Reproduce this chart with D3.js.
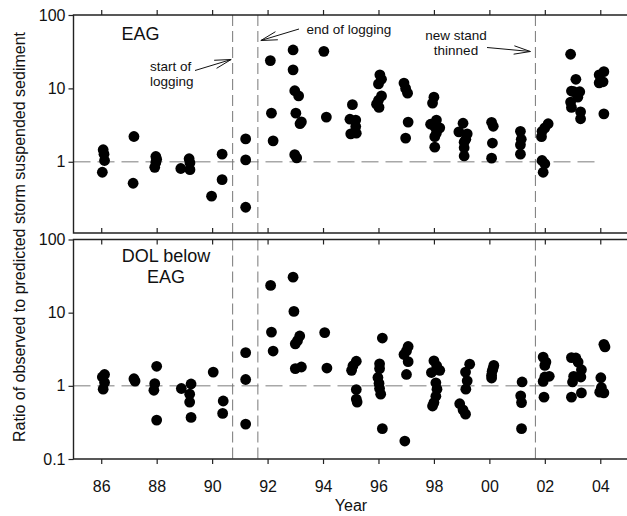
<!DOCTYPE html>
<html>
<head>
<meta charset="utf-8">
<script src="https://cdn.jsdelivr.net/npm/d3@7"></script>
<style>
  body { margin: 0; background: #fff; }
  svg { display: block; }
  text { font-family: "Liberation Sans", Arial, sans-serif; fill: #111; }
</style>
</head>
<body>
<svg id="chart" width="627" height="516"></svg>
<script>
// EAG (upper panel): year, ratio observed / predicted
const eagYear = [
  1986.07, 1986.10, 1986.12, 1986.04, 1987.18, 1987.15,
  1987.97, 1988.00, 1987.97, 1987.93, 1988.87, 1989.17, 1989.20, 1989.20,
  1989.98, 1990.36, 1990.36, 1991.21, 1991.21, 1991.21,
  1992.10, 1992.14, 1992.20, 1992.92, 1992.92, 1992.98, 1993.12, 1993.02, 1993.17, 1993.22, 1992.98, 1993.05,
  1994.03, 1994.12, 1995.06, 1994.97, 1995.18, 1995.18, 1995.00, 1995.20,
  1996.05, 1996.11, 1996.00, 1996.11, 1996.00, 1995.93, 1996.02,
  1996.92, 1996.98, 1997.05, 1997.07, 1996.98,
  1998.00, 1997.95, 1998.09, 1997.88, 1998.03, 1998.21, 1998.09, 1998.03, 1998.03,
  1999.05, 1998.90, 1999.20, 1999.15, 1999.09, 1999.09, 1999.09,
  2000.08, 2000.14, 2000.11, 2000.08, 2001.12, 2001.15, 2001.12, 2001.12,
  2002.12, 2002.00, 2001.90, 2001.88, 2001.90, 2002.00, 2001.94,
  2002.93, 2003.12, 2002.96, 2003.26, 2003.05, 2003.19, 2002.93, 2002.96, 2003.29, 2003.29,
  2004.13, 2003.96, 2003.96, 2004.10, 2004.13
];
const eagRatio = [
  1.46, 1.27, 1.04, 0.72, 2.21, 0.51,
  1.18, 1.08, 0.98, 0.84, 0.81, 1.10, 0.97, 0.78,
  0.34, 1.27, 0.57, 2.05, 1.06, 0.24,
  23.9, 4.6, 1.93, 33.4, 17.9, 9.3, 7.9, 4.6, 3.3, 3.5, 1.25, 1.13,
  32, 4.06, 6.0, 3.8, 3.7, 3.02, 2.4, 2.45,
  15.3, 13.3, 11.5, 7.9, 6.9, 6.1, 5.5,
  11.8, 10.0, 8.6, 3.47, 2.1,
  7.6, 6.3, 3.7, 3.25, 3.0, 2.9, 2.46, 2.2, 1.58,
  3.35, 2.55, 2.4, 2.03, 1.85, 1.55, 1.2,
  3.45, 3.05, 1.8, 1.12, 2.6, 2.03, 1.7, 1.27,
  3.3, 2.9, 2.6, 2.2, 1.04, 0.94, 0.72,
  29.2, 13.3, 9.2, 9.0, 9.0, 7.6, 6.5, 5.5, 4.8, 3.85,
  16.9, 15.3, 11.9, 12.3, 4.5
];

// DOL below EAG (lower panel)
const dolYear = [
  1986.12, 1986.04, 1986.12, 1986.07, 1987.18, 1987.22,
  1988.00, 1987.93, 1987.90, 1988.00, 1988.89, 1989.24, 1989.19, 1989.19, 1989.24,
  1990.04, 1990.40, 1990.38, 1991.21, 1991.21, 1991.21,
  1992.11, 1992.14, 1992.20, 1992.92, 1992.95, 1993.16, 1993.08, 1993.00, 1993.00, 1993.22,
  1994.06, 1994.14, 1995.20, 1995.08, 1995.03, 1995.20, 1995.20, 1995.23,
  1996.14, 1996.04, 1996.04, 1995.98, 1996.02, 1996.04, 1996.08, 1996.14,
  1997.07, 1997.01, 1996.92, 1997.07, 1997.01, 1996.95,
  1998.00, 1998.10, 1998.21, 1997.91, 1998.07, 1998.11, 1998.07, 1998.00, 1997.95,
  1999.29, 1999.14, 1999.20, 1999.15, 1998.93, 1999.05, 1999.14,
  2000.16, 2000.13, 2000.10, 2000.08, 2000.08, 2001.18, 2001.13, 2001.16, 2001.16,
  2001.94, 2002.04, 2002.00, 2002.16, 2002.00, 2001.94, 2001.97,
  2002.96, 2003.12, 2003.20, 2003.32, 2003.04, 2003.00, 2003.30, 2003.32, 2002.96,
  2004.13, 2004.17, 2004.02, 2004.04, 2003.98, 2004.13
];
const dolRatio = [
  1.43, 1.32, 1.11, 0.9, 1.25, 1.16,
  1.85, 1.07, 0.87, 0.34, 0.92, 1.06, 0.77, 0.6, 0.37,
  1.54, 0.62, 0.42, 2.84, 1.22, 0.3,
  23.6, 5.43, 2.99, 30.6, 10.4, 4.8, 4.15, 3.75, 1.72, 1.81,
  5.34, 1.75, 2.17, 1.88, 1.63, 0.89, 0.66, 0.6,
  4.5, 2.0, 1.72, 1.3, 1.08, 0.92, 0.77, 0.26,
  3.45, 3.0, 2.68, 2.14, 1.43, 0.176,
  2.2, 1.88, 1.63, 1.52, 1.1, 0.9, 0.72, 0.59, 0.53,
  1.98, 1.54, 1.17, 0.9, 0.57, 0.47, 0.41,
  1.9, 1.72, 1.58, 1.4, 1.28, 1.13, 0.73, 0.59, 0.26,
  2.47, 2.11, 1.9, 1.35, 1.32, 1.15, 0.7,
  2.43, 2.4, 2.11, 1.66, 1.35, 1.13, 1.32, 0.8, 0.7,
  3.69, 3.4, 1.29, 0.95, 0.82, 0.8
];

const tickYears = [1986, 1988, 1990, 1992, 1994, 1996, 1998, 2000, 2002, 2004];
const tickLabels = ["86", "88", "90", "92", "94", "96", "98", "00", "02", "04"];
const eventYears = [1990.74, 1991.65, 2001.66]; // start/end of logging, thinning

const svg = d3.select("#chart");

const x = d3.scaleLinear().domain([1985, 2005]).range([73.5, 628]);
const yTop = d3.scaleLog().domain([0.107, 100]).range([233, 15]);
const yBot = d3.scaleLog().domain([0.1, 100]).range([459, 239.5]);

const frameColor = "#222";
const fmt = d3.format("");

function panel(y, yTicks, years, ratios, topOut, bottomLabels) {
  const [y0, y1] = y.range(); // bottom, top
  const g = svg.append("g");

  // reference line at ratio 1
  g.append("line")
    .attr("x1", x(1985)).attr("x2", x(2004))
    .attr("y1", y(1)).attr("y2", y(1))
    .attr("stroke", "#a8a8a8").attr("stroke-width", 1.5)
    .attr("stroke-dasharray", "17,7");

  // event lines
  g.selectAll(".ev").data(eventYears).enter().append("line")
    .attr("x1", d => x(d)).attr("x2", d => x(d))
    .attr("y1", y1).attr("y2", y0)
    .attr("stroke", "#777").attr("stroke-width", 1)
    .attr("stroke-dasharray", "11,5");

  // dots
  g.selectAll(".dot").data(years).enter().append("circle")
    .attr("cx", d => x(d))
    .attr("cy", (d, i) => y(ratios[i]))
    .attr("r", 5.4)
    .attr("fill", "#000");

  // left axis
  const left = g.append("g")
    .attr("transform", `translate(${x(1985)},0)`)
    .call(d3.axisLeft(y).tickValues(yTicks).tickFormat(fmt).tickSize(5).tickSizeOuter(0).tickPadding(3));
  left.select(".domain").remove();
  left.selectAll("text").style("font-size", "16px");

  // top edge
  const top = g.append("g")
    .attr("transform", `translate(0,${y1})`)
    .call((topOut ? d3.axisTop(x) : d3.axisBottom(x)).tickValues(tickYears).tickFormat("").tickSize(5).tickSizeOuter(0));
  top.select(".domain").remove();

  // bottom edge
  const bot = g.append("g")
    .attr("transform", `translate(0,${y0})`)
    .call((bottomLabels ? d3.axisBottom(x) : d3.axisTop(x)).tickValues(tickYears)
      .tickFormat(bottomLabels ? (d, i) => tickLabels[i] : "")
      .tickSize(5).tickSizeOuter(0).tickPadding(17));
  bot.select(".domain").remove();
  bot.selectAll("text").style("font-size", "16px");

  svg.selectAll(".tick line").attr("stroke", frameColor).attr("stroke-width", 1.2);
  svg.selectAll(".tick text").attr("fill", "#111");

  // frame
  g.append("path")
    .attr("d", `M${x(2005)},${y1}H${x(1985)}V${y0}H${x(2005)}`)
    .attr("fill", "none").attr("stroke", frameColor).attr("stroke-width", 1.4);
}

panel(yTop, [1, 10, 100], eagYear, eagRatio, true, false);
panel(yBot, [0.1, 1, 10, 100], dolYear, dolRatio, false, true);

// titles
svg.append("text")
  .attr("transform", "translate(25,237) rotate(-90)")
  .attr("text-anchor", "middle").style("font-size", "16px")
  .text("Ratio of observed to predicted storm suspended sediment");
svg.append("text")
  .attr("x", 351).attr("y", 511)
  .attr("text-anchor", "middle").style("font-size", "16px")
  .text("Year");

// panel labels
svg.append("text").attr("x", 121.5).attr("y", 39.5).style("font-size", "18px").text("EAG");
svg.append("text").attr("x", 166).attr("y", 262).attr("text-anchor", "middle").style("font-size", "18px").text("DOL below");
svg.append("text").attr("x", 166).attr("y", 282.5).attr("text-anchor", "middle").style("font-size", "18px").text("EAG");

// annotations
const note = (tx, ty, lines, anchor) => {
  lines.forEach((s, i) => {
    svg.append("text").attr("x", tx).attr("y", ty + i * 14.5)
      .attr("text-anchor", anchor).style("font-size", "13.5px").text(s);
  });
};
note(150, 71, ["start of", "logging"], "start");
note(306.5, 33.5, ["end of logging"], "start");
note(456, 39.5, ["new stand"], "middle");
note(456, 55, ["thinned"], "middle");

function arrow(fx, fy, tx, ty) {
  const a = Math.atan2(ty - fy, tx - fx);
  const len = 17, spread = 0.25;
  const b1 = [tx - len * Math.cos(a - spread), ty - len * Math.sin(a - spread)];
  const b2 = [tx - len * Math.cos(a + spread), ty - len * Math.sin(a + spread)];
  svg.append("path")
    .attr("d", `M${fx},${fy}L${tx},${ty}M${b1[0]},${b1[1]}L${tx},${ty}L${b2[0]},${b2[1]}`)
    .attr("fill", "none").attr("stroke", "#111").attr("stroke-width", 1);
}
arrow(195, 70.5, x(eventYears[0]) - 1.5, 59.5);
arrow(299, 29, x(eventYears[1]) + 3, 40.5);
arrow(487, 47.5, x(eventYears[2]) - 5, 51.5);
</script>
</body>
</html>
